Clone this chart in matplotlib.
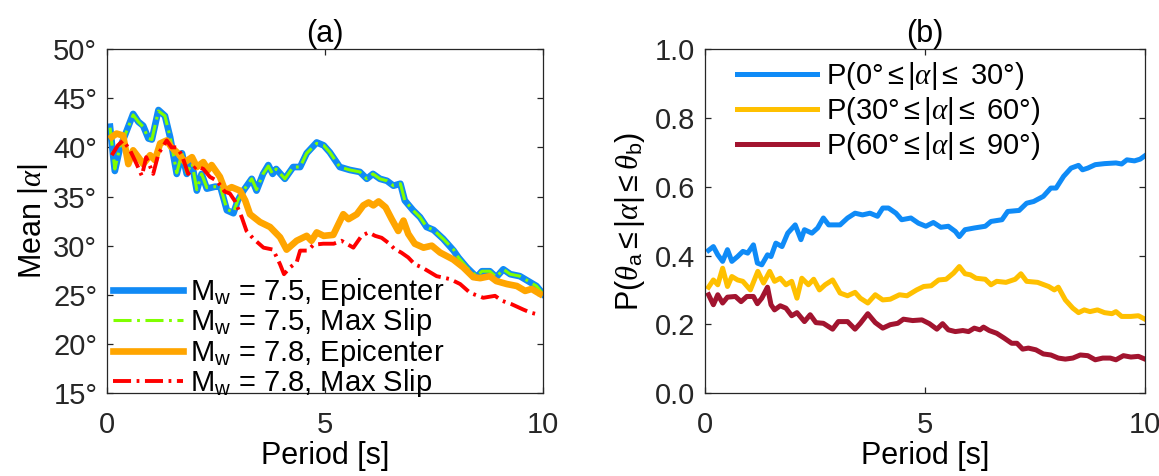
import numpy as np
import matplotlib
matplotlib.use("Agg")
import matplotlib.pyplot as plt

plt.rcParams['font.family'] = ['Liberation Sans', 'DejaVu Sans']
plt.rcParams['mathtext.fontset'] = 'custom'
plt.rcParams['mathtext.rm'] = 'Liberation Sans'
plt.rcParams['mathtext.it'] = 'Liberation Serif:italic'
plt.rcParams['mathtext.bf'] = 'Liberation Sans:bold'
plt.rcParams['lines.scale_dashes'] = False

# ---- (a) Mean |alpha| vs period ----
t_75_epi = [0.07, 0.18, 0.3, 0.41, 0.6, 0.72, 0.83, 0.95, 1.03, 1.18, 1.33, 1.45, 1.6, 1.72,
            1.83, 1.95, 2.06, 2.17, 2.29, 2.48, 2.6, 2.75, 2.9, 3.0, 3.13, 3.32, 3.43, 3.58,
            3.7, 3.8, 3.88, 4.08, 4.27, 4.43, 4.58, 4.81, 4.97, 5.11, 5.34, 5.57, 5.8, 5.96,
            6.1, 6.26, 6.42, 6.57, 6.73, 6.83, 7.02, 7.18, 7.33, 7.49, 7.71, 7.95, 8.06,
            8.25, 8.48, 8.6, 8.78, 8.93, 9.09, 9.25, 9.47, 9.66, 9.85, 10.0]
v_75_epi = [42.1, 37.6, 40.0, 41.2, 43.4, 42.6, 42.2, 40.9, 40.8, 43.8, 43.2, 41.0, 37.3, 39.4,
            37.3, 38.4, 35.6, 37.3, 35.8, 36.0, 36.0, 33.6, 33.3, 34.6, 35.6, 36.8, 35.6, 37.3,
            38.2, 37.3, 37.8, 36.8, 38.0, 38.0, 39.4, 40.5, 40.2, 39.5, 38.0, 37.7, 37.5, 36.8,
            37.3, 36.8, 36.6, 36.1, 36.3, 34.6, 33.6, 32.9, 31.9, 31.6, 30.7, 29.5, 28.8,
            27.8, 26.8, 27.4, 27.4, 26.8, 27.6, 27.1, 26.9, 26.4, 25.9, 25.1]

t_75_slip = t_75_epi
v_75_slip = [42.0, 37.8, 40.1, 41.2, 43.3, 42.6, 42.1, 40.9, 40.8, 43.7, 43.2, 41.0, 37.4, 39.4,
             37.4, 38.4, 35.7, 37.3, 35.9, 36.0, 36.0, 33.7, 33.4, 34.6, 35.6, 36.8, 35.7, 37.3,
             38.1, 37.3, 37.8, 36.8, 38.0, 38.0, 39.4, 40.4, 40.2, 39.5, 38.0, 37.7, 37.5, 36.8,
             37.3, 36.8, 36.6, 36.1, 36.3, 34.6, 33.6, 32.9, 31.9, 31.6, 30.7, 29.6, 28.8,
             27.8, 26.9, 27.4, 27.4, 26.8, 27.6, 27.1, 26.9, 26.4, 25.9, 25.1]

t_78_epi = [0.11, 0.22, 0.37, 0.49, 0.6, 0.72, 0.83, 0.99, 1.1, 1.22, 1.37, 1.48, 1.64, 1.79,
            1.95, 2.06, 2.21, 2.32, 2.4, 2.59, 2.71, 2.86, 3.05, 3.17, 3.28, 3.51, 3.74, 3.97,
            4.12, 4.35, 4.58, 4.69, 4.81, 4.97, 5.19, 5.31, 5.42, 5.54, 5.73, 5.88, 6.0, 6.11,
            6.23, 6.39, 6.53, 6.68, 6.8, 6.91, 7.06, 7.26, 7.45, 7.64, 7.94, 8.17, 8.4, 8.56,
            8.78, 8.93, 9.17, 9.4, 9.59, 9.74, 9.93]
v_78_epi = [41.05, 41.4, 41.2, 38.3, 39.7, 39.0, 38.3, 39.2, 38.7, 40.4, 40.7, 40.0, 39.35, 38.5,
            39.0, 38.0, 38.5, 37.7, 38.2, 37.0, 35.6, 35.95, 35.6, 34.6, 33.2, 32.4, 31.9, 30.85,
            29.6, 30.5, 31.0, 30.5, 31.35, 31.0, 31.1, 32.2, 33.2, 32.7, 33.2, 34.1, 34.4, 34.1,
            34.5, 33.9, 32.7, 31.5, 32.55, 31.2, 30.2, 29.8, 30.0, 29.3, 28.6, 27.8, 26.8, 26.7,
            26.9, 26.4, 26.1, 25.9, 25.4, 25.6, 25.1]

t_78_slip = [0.11, 0.25, 0.37, 0.53, 0.68, 0.8, 0.9, 1.06, 1.18, 1.37, 1.48, 1.6, 1.72, 1.86,
             2.06, 2.21, 2.36, 2.52, 2.7, 2.82, 2.94, 3.09, 3.2, 3.36, 3.59, 3.81, 3.97, 4.06,
             4.2, 4.35, 4.43, 4.6, 4.74, 4.96, 5.2, 5.38, 5.65, 5.84, 6.0, 6.15, 6.3, 6.45,
             6.6, 6.75, 6.91, 7.06, 7.22, 7.41, 7.56, 7.87, 8.1, 8.33, 8.63, 8.9, 9.06, 9.28,
             9.55, 9.71, 9.89]
v_78_slip = [39.2, 40.2, 40.7, 39.7, 38.3, 37.1, 39.0, 37.3, 39.35, 40.7, 40.0, 40.0, 39.2, 37.3,
             38.1, 37.8, 37.0, 36.6, 35.5, 35.3, 34.5, 32.9, 31.5, 30.7, 29.8, 29.6, 28.1, 27.1,
             27.8, 28.3, 29.5, 29.5, 30.1, 30.2, 30.2, 30.5, 29.8, 31.0, 31.35, 31.0, 30.8, 30.3,
             29.65, 29.3, 28.8, 28.1, 27.8, 27.3, 26.9, 26.6, 26.1, 25.2, 24.7, 24.9, 24.4, 24.05,
             23.5, 23.2, 23.0]

labels_a = [r"M$_{\rm w}$ = 7.5, Epicenter", r"M$_{\rm w}$ = 7.5, Max Slip",
            r"M$_{\rm w}$ = 7.8, Epicenter", r"M$_{\rm w}$ = 7.8, Max Slip"]
yticks_a = [15, 20, 25, 30, 35, 40, 45, 50]

# ---- (b) probability vs period ----
t_p0 = [0.08, 0.19, 0.29, 0.4, 0.51, 0.61, 0.74, 0.86, 0.97, 1.1, 1.19, 1.29, 1.42, 1.5,
        1.61, 1.75, 1.88, 2.05, 2.18, 2.26, 2.43, 2.56, 2.69, 2.81, 3.07, 3.24, 3.41, 3.58,
        3.75, 3.92, 4.04, 4.17, 4.34, 4.47, 4.68, 4.85, 5.02, 5.19, 5.36, 5.53, 5.69, 5.78,
        5.91, 6.12, 6.37, 6.5, 6.75, 6.88, 7.14, 7.31, 7.47, 7.69, 7.86, 7.98, 8.15, 8.32,
        8.49, 8.58, 8.7, 8.87, 9.08, 9.34, 9.47, 9.59, 9.76, 9.89, 10.0]
p_0_30 = [0.415, 0.426, 0.402, 0.383, 0.417, 0.383, 0.397, 0.412, 0.407, 0.431, 0.378, 0.373,
          0.402, 0.397, 0.436, 0.426, 0.465, 0.489, 0.446, 0.475, 0.465, 0.48, 0.509, 0.489,
          0.489, 0.509, 0.523, 0.518, 0.523, 0.514, 0.538, 0.538, 0.523, 0.504, 0.509, 0.494,
          0.485, 0.496, 0.482, 0.485, 0.47, 0.455, 0.475, 0.48, 0.485, 0.499, 0.504, 0.528,
          0.531, 0.552, 0.557, 0.572, 0.596, 0.596, 0.63, 0.654, 0.662, 0.649, 0.654, 0.664,
          0.667, 0.669, 0.666, 0.678, 0.675, 0.68, 0.69]

t_p30 = [0.08, 0.19, 0.29, 0.4, 0.51, 0.61, 0.74, 0.86, 1.03, 1.2, 1.33, 1.47, 1.58, 1.71,
         1.84, 1.97, 2.09, 2.2, 2.35, 2.47, 2.6, 2.73, 2.9, 3.07, 3.24, 3.41, 3.53, 3.7, 3.87,
         4.04, 4.21, 4.42, 4.59, 4.81, 4.97, 5.14, 5.31, 5.48, 5.65, 5.78, 5.91, 6.03, 6.16,
         6.37, 6.5, 6.63, 6.84, 7.05, 7.18, 7.31, 7.56, 7.81, 7.94, 8.03, 8.19, 8.36, 8.49,
         8.62, 8.75, 8.92, 9.08, 9.25, 9.34, 9.47, 9.68, 9.85, 10.0]
p_30_60 = [0.308, 0.329, 0.315, 0.363, 0.31, 0.339, 0.329, 0.325, 0.30, 0.354, 0.32, 0.354,
           0.325, 0.334, 0.315, 0.325, 0.276, 0.334, 0.315, 0.331, 0.30, 0.315, 0.329, 0.291,
           0.283, 0.293, 0.276, 0.262, 0.286, 0.271, 0.273, 0.286, 0.283, 0.30, 0.31, 0.312,
           0.329, 0.331, 0.349, 0.368, 0.347, 0.344, 0.334, 0.331, 0.315, 0.325, 0.322, 0.331,
           0.347, 0.325, 0.322, 0.31, 0.30, 0.308, 0.271, 0.247, 0.234, 0.242, 0.237, 0.242,
           0.234, 0.231, 0.237, 0.223, 0.223, 0.225, 0.215]

t_p60 = [0.08, 0.19, 0.29, 0.4, 0.51, 0.69, 0.82, 0.95, 1.1, 1.19, 1.29, 1.42, 1.5, 1.58,
         1.71, 1.84, 1.97, 2.09, 2.26, 2.39, 2.52, 2.69, 2.9, 3.03, 3.24, 3.41, 3.53, 3.7,
         3.87, 4.04, 4.21, 4.38, 4.51, 4.72, 4.93, 5.1, 5.27, 5.4, 5.53, 5.69, 5.86, 5.99,
         6.12, 6.25, 6.33, 6.46, 6.63, 6.8, 6.97, 7.09, 7.22, 7.35, 7.52, 7.69, 7.86, 8.03,
         8.19, 8.36, 8.53, 8.7, 8.87, 9.04, 9.21, 9.34, 9.51, 9.68, 9.85, 10.0]
p_60_90 = [0.286, 0.257, 0.286, 0.262, 0.279, 0.281, 0.266, 0.281, 0.281, 0.26, 0.276, 0.308,
           0.257, 0.242, 0.254, 0.247, 0.225, 0.234, 0.208, 0.228, 0.205, 0.203, 0.186, 0.208,
           0.208, 0.186, 0.203, 0.231, 0.205, 0.189, 0.199, 0.203, 0.215, 0.211, 0.213, 0.202,
           0.186, 0.202, 0.184, 0.179, 0.182, 0.179, 0.189, 0.184, 0.192, 0.182, 0.174, 0.16,
           0.145, 0.145, 0.128, 0.131, 0.126, 0.114, 0.111, 0.102, 0.099, 0.102, 0.111, 0.109,
           0.097, 0.102, 0.102, 0.097, 0.109, 0.105, 0.107, 0.099]

labels_b = [r"P(0°$\leq$|$\alpha$|$\leq$ 30°)", r"P(30°$\leq$|$\alpha$|$\leq$ 60°)",
            r"P(60°$\leq$|$\alpha$|$\leq$ 90°)"]
yticks_b = [0.0, 0.2, 0.4, 0.6, 0.8, 1.0]

axcol = '#262626'
fs = 22      # titles / axis labels
fs_leg = 21  # legend
fs_tick = 21

fig = plt.figure(figsize=(11.59, 4.76), dpi=100)
ax1 = fig.add_axes([0.0923, 0.174, 0.3762, 0.723])
ax2 = fig.add_axes([0.6083, 0.174, 0.3796, 0.723])

# panel (a)
ax1.plot(t_75_epi, v_75_epi, color='#118af5', lw=4.8, label=labels_a[0])
ax1.plot(t_75_slip, v_75_slip, color='#80ff00', lw=2.2, dashes=(13, 4, 2, 4), label=labels_a[1])
ax1.plot(t_78_epi, v_78_epi, color='#ffa500', lw=4.8, label=labels_a[2])
ax1.plot(t_78_slip, v_78_slip, color='#ff0000', lw=2.8, dashes=(13, 4, 2, 4), label=labels_a[3])
ax1.set_xlim(0, 10)
ax1.set_ylim(15, 50)
ax1.set_xticks([0, 5, 10])
ax1.set_yticks(yticks_a)
ax1.set_yticklabels([f"{v}°" for v in yticks_a])
ax1.set_title("(a)", fontsize=fs, pad=5)
ax1.set_xlabel("Period [s]", fontsize=fs, labelpad=1)
ax1.set_ylabel(r"Mean |$\alpha$|", fontsize=fs, labelpad=2)
ax1.legend(loc='lower left', bbox_to_anchor=(0.0, -0.035), frameon=False, fontsize=fs_leg,
           handlelength=2.4, handletextpad=0.25, labelspacing=-0.05, borderpad=0.2,
           borderaxespad=0)

# panel (b)
ax2.plot(t_p0, p_0_30, color='#0f8bf7', lw=3.6, label=labels_b[0])
ax2.plot(t_p30, p_30_60, color='#ffc000', lw=3.6, label=labels_b[1])
ax2.plot(t_p60, p_60_90, color='#a2142f', lw=3.6, label=labels_b[2])
ax2.set_xlim(0, 10)
ax2.set_ylim(0, 1)
ax2.set_xticks([0, 5, 10])
ax2.set_yticks(yticks_b)
ax2.set_yticklabels([f"{v:.1f}" for v in yticks_b])
ax2.set_title("(b)", fontsize=fs, pad=5)
ax2.set_xlabel("Period [s]", fontsize=fs, labelpad=1)
ax2.set_ylabel(r"P($\theta_{\rm a}$$\leq$|$\alpha$|$\leq$$\theta_{\rm b}$)", fontsize=fs, labelpad=6)
ax2.legend(loc='upper left', bbox_to_anchor=(0.06, 0.985), frameon=False, fontsize=fs_leg,
           handlelength=2.75, handletextpad=0.3, labelspacing=0.1, borderpad=0.2,
           borderaxespad=0)

for ax in (ax1, ax2):
    for sp in ax.spines.values():
        sp.set_color(axcol)
        sp.set_linewidth(0.9)
    ax.tick_params(direction='in', top=True, right=True, length=4, width=0.9,
                   colors=axcol, labelsize=fs_tick)
    ax.tick_params(axis='x', pad=13)
    ax.tick_params(axis='y', pad=7)

fig.savefig("out.png", dpi=100)
